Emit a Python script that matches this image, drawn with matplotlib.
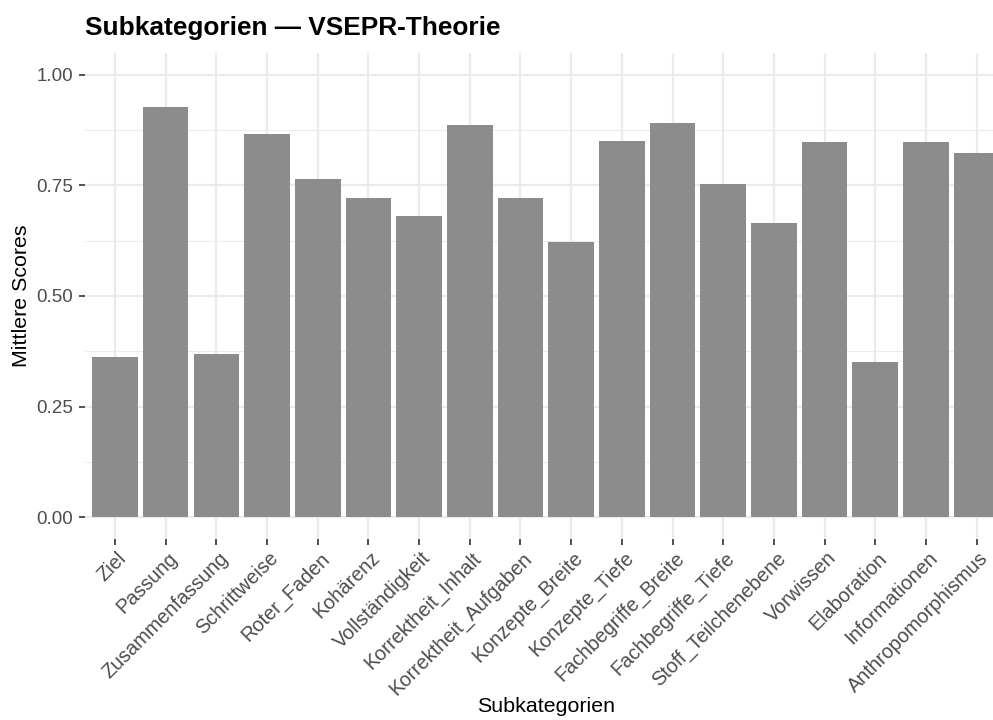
import matplotlib
matplotlib.use("Agg")
import matplotlib.pyplot as plt
import matplotlib.transforms as mtransforms
import numpy as np

categories = ["Ziel", "Passung", "Zusammenfassung", "Schrittweise", "Roter_Faden",
              "Kohärenz", "Vollständigkeit", "Korrektheit_Inhalt", "Korrektheit_Aufgaben",
              "Konzepte_Breite", "Konzepte_Tiefe", "Fachbegriffe_Breite", "Fachbegriffe_Tiefe",
              "Stoff_Teilchenebene", "Vorwissen", "Elaboration", "Informationen",
              "Anthropomorphismus"]
scores = [0.362, 0.927, 0.369, 0.866, 0.764, 0.721, 0.681, 0.886, 0.721,
          0.622, 0.850, 0.891, 0.753, 0.665, 0.848, 0.351, 0.848, 0.823]
y_ticks = [0.0, 0.25, 0.5, 0.75, 1.0]
y_ticklabels = ["0.00", "0.25", "0.50", "0.75", "1.00"]

plt.rcParams['font.family'] = ['Liberation Sans', 'DejaVu Sans']

W, H = 993, 720
fig = plt.figure(figsize=(W / 100, H / 100), dpi=100)
left_px, right_px, top_px, bottom_px = 84.6, 1007.0, 52.5, 539.4
ax_w, ax_h = right_px - left_px, bottom_px - top_px
ax = fig.add_axes([left_px / W, 1 - bottom_px / H, ax_w / W, ax_h / H])

x = np.arange(len(categories))
ax.bar(x, scores, width=0.9, color="#8C8C8C", zorder=2)

ax.set_xlim(-0.6, len(categories) - 1 + 0.6)
ax.set_ylim(-0.05, 1.05)
ax.set_yticks(y_ticks)
ax.set_yticklabels(y_ticklabels)
ax.set_yticks([0.125, 0.375, 0.625, 0.875], minor=True)
ax.set_xticks(x)
ax.set_xticklabels(categories, rotation=45, ha="right", va="top", rotation_mode="anchor",
                   fontsize=14.3)

for s in ax.spines.values():
    s.set_visible(False)
ax.set_facecolor("white")
ax.grid(True, which="major", color="#EBEBEB", linewidth=1.6, zorder=0)
ax.grid(True, which="minor", axis="y", color="#EBEBEB", linewidth=0.8, zorder=0)
ax.set_axisbelow(True)

ax.tick_params(axis="both", which="major", length=4, width=1.2, color="#333333",
               labelcolor="#4D4D4D", pad=4)
ax.tick_params(axis="y", which="major", labelsize=13.6)
ax.tick_params(axis="y", which="minor", length=0)

offset = mtransforms.ScaledTranslation(2 / 100, 2 / 100, fig.dpi_scale_trans)
for lbl in ax.get_xticklabels():
    lbl.set_transform(lbl.get_transform() + offset)

ax.set_ylabel("Mittlere Scores", fontsize=15.4, color="black")
ax.yaxis.set_label_coords((22 - left_px) / ax_w, 0.5)
ax.yaxis.label.set_va("center")
ax.set_xlabel("Subkategorien", fontsize=15.4, color="black")
ax.xaxis.set_label_coords(0.5, -(706 - bottom_px) / ax_h)
ax.xaxis.label.set_va("center")

fig.text(left_px / W, 1 - 28 / H, "Subkategorien — VSEPR-Theorie", fontsize=18.9,
         fontweight="bold", ha="left", va="center", color="black")

fig.savefig("out.png", dpi=100)
